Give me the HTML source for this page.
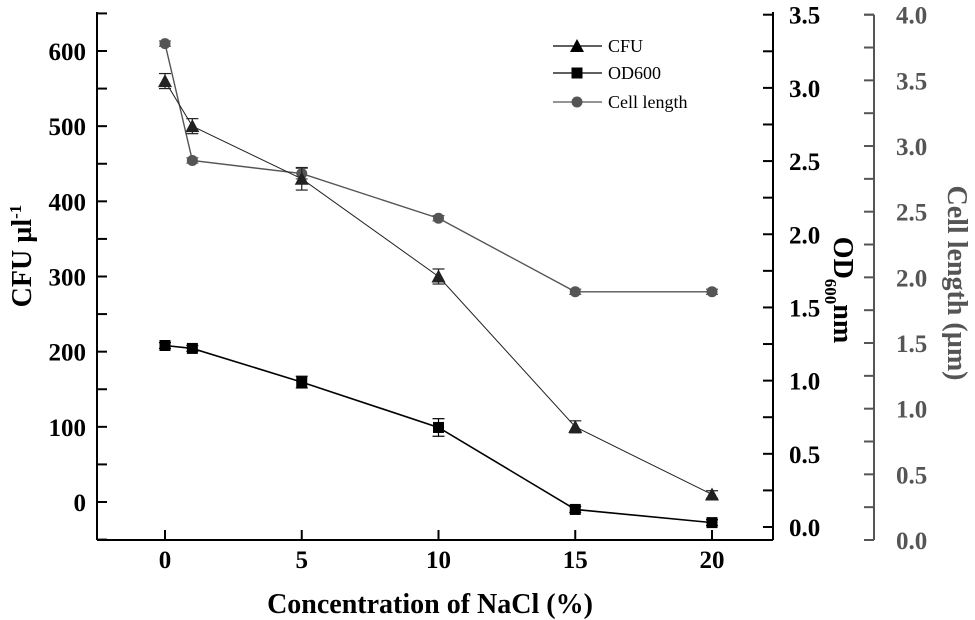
<!DOCTYPE html>
<html><head><meta charset="utf-8"><style>
html,body{margin:0;padding:0;background:#fff}
svg{display:block;font-family:"Liberation Serif",serif}
</style></head><body>
<svg id="chart" width="975" height="620" viewBox="0 0 975 620"></svg>
<script>
const conc = [0, 1, 5, 10, 15, 20];
const cfu = [560, 500, 430, 300, 100, 10];
const cfuErr = [10, 10, 15, 10, 8, 5];
const od = [1.24, 1.22, 0.99, 0.68, 0.12, 0.03];
const odErr = [0.02, 0.02, 0.04, 0.06, 0.02, 0.02];
const cellLen = [3.78, 2.89, 2.79, 2.45, 1.89, 1.89];
const cellErr = [0.02, 0.02, 0.04, 0.02, 0.02, 0.02];
const xTicks = [0, 5, 10, 15, 20];
const cfuTicks = [0, 100, 200, 300, 400, 500, 600];
const odTicks = [0.0, 0.5, 1.0, 1.5, 2.0, 2.5, 3.0, 3.5];
const cellTicks = [0.0, 0.5, 1.0, 1.5, 2.0, 2.5, 3.0, 3.5, 4.0];

const NS = "http://www.w3.org/2000/svg";
const svg = document.getElementById('chart');
const L = 97, R = 773, T = 12, B = 540, CX = 874;
const xS = v => 165 + (v - 0) * (712 - 165) / 20;
const yC = v => 502 - v * (502 - 51) / 600;
const yO = v => 527 - v * (527 - 14.7) / 3.5;
const yL = v => 540 - v * (540 - 14.7) / 4;
function el(tag, attrs, parent) {
  const e = document.createElementNS(NS, tag);
  for (const k in attrs) e.setAttribute(k, attrs[k]);
  (parent || svg).appendChild(e);
  return e;
}
function g(name) {
  const e = el('g', {});
  
  
  return e;
}
const FS = 25;
// axes
const ax = g('axes');
el('line', {x1: L, y1: T, x2: L, y2: B, stroke: '#000', 'stroke-width': 2}, ax);
el('line', {x1: L, y1: B, x2: R, y2: B, stroke: '#000', 'stroke-width': 2}, ax);
el('line', {x1: R, y1: T, x2: R, y2: B, stroke: '#000', 'stroke-width': 2}, ax);
el('line', {x1: CX, y1: 14.7, x2: CX, y2: B, stroke: '#555', 'stroke-width': 2}, ax);
el('line', {x1: CX - 10, y1: 14.7, x2: CX, y2: 14.7, stroke: '#555', 'stroke-width': 2}, ax);
el('line', {x1: CX - 10, y1: B, x2: CX, y2: B, stroke: '#555', 'stroke-width': 2}, ax);
// x ticks
const xt = g('x-axis-ticks');
xTicks.forEach(v => {
  el('line', {x1: xS(v), y1: B, x2: xS(v), y2: B - 10, stroke: '#000', 'stroke-width': 2}, xt);
  const t = el('text', {x: xS(v), y: 568, 'text-anchor': 'middle', 'font-size': FS, 'font-weight': 'bold'}, xt);
  t.textContent = v;
});
// CFU ticks
const ct = g('cfu-axis-ticks');
cfuTicks.forEach(v => {
  el('line', {x1: L, y1: yC(v), x2: L + 10, y2: yC(v), stroke: '#000', 'stroke-width': 2}, ct);
  el('line', {x1: L, y1: yC(v + 50), x2: L + 10, y2: yC(v + 50), stroke: '#000', 'stroke-width': 2}, ct);
  const t = el('text', {x: 86, y: yC(v) + 9, 'text-anchor': 'end', 'font-size': FS, 'font-weight': 'bold'}, ct);
  t.textContent = v;
});
el('line', {x1: L, y1: yC(-50), x2: L + 10, y2: yC(-50), stroke: '#000', 'stroke-width': 2}, ct);
// OD ticks
const ot = g('od-axis-ticks');
odTicks.forEach(v => {
  el('line', {x1: R, y1: yO(v), x2: R - 10, y2: yO(v), stroke: '#000', 'stroke-width': 2}, ot);
  if (v < 3.5) el('line', {x1: R, y1: yO(v + 0.25), x2: R - 10, y2: yO(v + 0.25), stroke: '#000', 'stroke-width': 2}, ot);
  const t = el('text', {x: 789, y: yO(v) + 9, 'font-size': FS, 'font-weight': 'bold'}, ot);
  t.textContent = v.toFixed(1);
});
// cell ticks
const lt = g('cell-length-axis-ticks');
cellTicks.forEach(v => {
  el('line', {x1: CX, y1: yL(v), x2: CX - 10, y2: yL(v), stroke: '#555', 'stroke-width': 2}, lt);
  if (v < 4) el('line', {x1: CX, y1: yL(v + 0.25), x2: CX - 10, y2: yL(v + 0.25), stroke: '#555', 'stroke-width': 2}, lt);
  const t = el('text', {x: 896, y: yL(v) + 9, 'font-size': FS, 'font-weight': 'bold', fill: '#555'}, lt);
  t.textContent = v.toFixed(1);
});
// titles
let t;
t = el('text', {x: 430, y: 613, 'text-anchor': 'middle', 'font-size': 28, 'font-weight': 'bold'});
t.textContent = 'Concentration of NaCl (%)';
 
t = el('text', {transform: 'translate(31,256) rotate(-90)', 'text-anchor': 'middle', 'font-size': 28, 'font-weight': 'bold'});
t.innerHTML = 'CFU µl<tspan dy="-10" font-size="17">-1</tspan>';
 
t = el('text', {transform: 'translate(834,290) rotate(90)', 'text-anchor': 'middle', 'font-size': 28, 'font-weight': 'bold'});
t.innerHTML = 'OD<tspan dy="9" font-size="17">600</tspan><tspan dy="-9">nm</tspan>';
 
t = el('text', {transform: 'translate(948,283) rotate(90)', 'text-anchor': 'middle', 'font-size': 28, 'font-weight': 'bold', fill: '#555'});
t.textContent = 'Cell length (µm)';
 

function series(name, vals, errs, yf, color, width, marker) {
  const s = g(name);
  el('polyline', {points: vals.map((v, i) => xS(conc[i]) + ',' + yf(v)).join(' '), fill: 'none', stroke: color, 'stroke-width': width}, s);
  vals.forEach((v, i) => {
    const x = xS(conc[i]);
    const y1 = yf(v + errs[i]), y2 = yf(v - errs[i]);
    el('line', {x1: x, y1: y1, x2: x, y2: y2, stroke: color, 'stroke-width': 1.2}, s);
    el('line', {x1: x - 6, y1: y1, x2: x + 6, y2: y1, stroke: color, 'stroke-width': 1.2}, s);
    el('line', {x1: x - 6, y1: y2, x2: x + 6, y2: y2, stroke: color, 'stroke-width': 1.2}, s);
    marker(s, x, yf(v), color);
  });
}
const tri = (p, x, y, c) => el('polygon', {points: `${x},${y - 7} ${x - 7},${y + 6} ${x + 7},${y + 6}`, fill: c}, p);
const sq = (p, x, y, c) => el('rect', {x: x - 5.5, y: y - 5.5, width: 11, height: 11, fill: c}, p);
const circ = (p, x, y, c) => el('circle', {cx: x, cy: y, r: 5.5, fill: c}, p);
series('od600-series', od, odErr, yO, '#000', 1.6, sq);
series('cell-length-series', cellLen, cellErr, yL, '#555', 1.4, circ);
series('cfu-series', cfu, cfuErr, yC, '#222', 1, tri);

// legend
const lg = g('legend');
[['CFU', tri, '#000', 46], ['OD600', sq, '#000', 73], ['Cell length', circ, '#555', 102]].forEach(([lab, m, c, y]) => {
  const e = g('legend-entry');
  lg.appendChild(e);
  el('line', {x1: 553, y1: y, x2: 602, y2: y, stroke: c, 'stroke-width': 1.2}, e);
  m(e, 577, y, c);
  const tx = el('text', {x: 608, y: y + 6, 'font-size': 18}, e);
  tx.textContent = lab;
});
</script>
</body></html>
